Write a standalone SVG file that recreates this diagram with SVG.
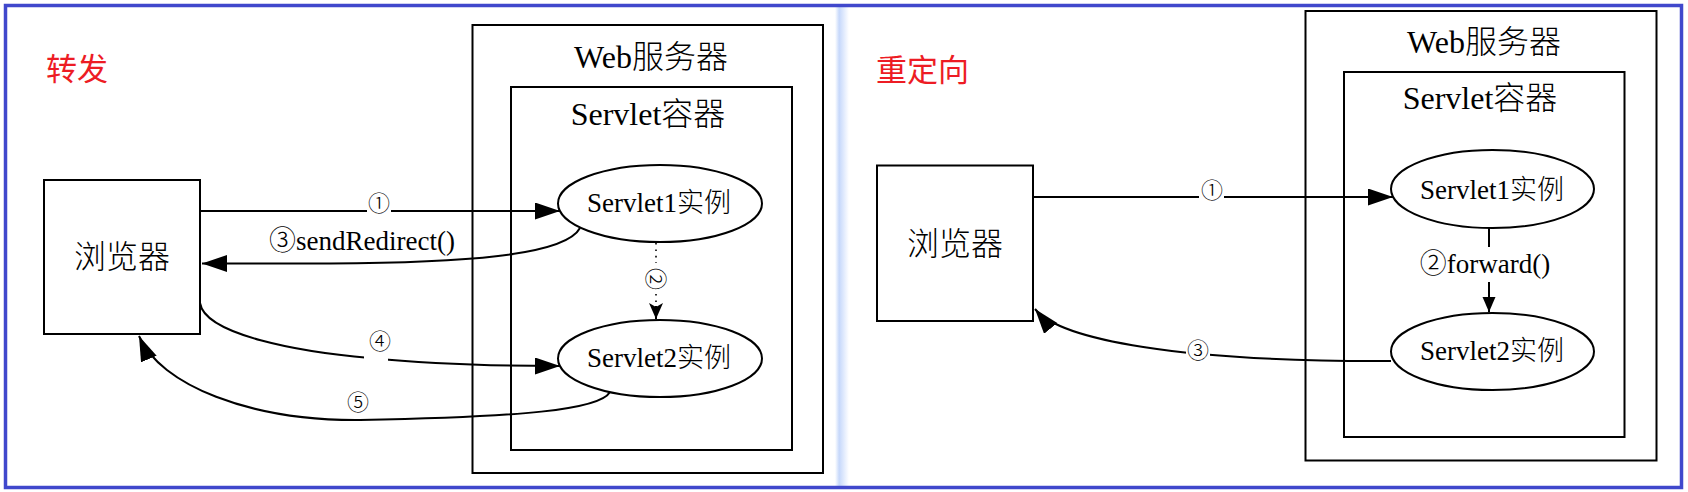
<svg xmlns="http://www.w3.org/2000/svg" width="1688" height="492" viewBox="0 0 1688 492">
  <style>
    .box{fill:none;stroke:#000;stroke-width:2}
    .ell{fill:#fff;stroke:#000;stroke-width:2}
    .ln{fill:none;stroke:#000;stroke-width:2}
    .dot{fill:none;stroke:#000;stroke-width:1.6;stroke-dasharray:1.6 4.8}
    .t{font-family:"Liberation Serif","Noto Sans CJK SC",serif;fill:#000}
    .big{font-size:32px}
    .mid{font-size:27px}
    .num{font-family:"Noto Sans CJK SC","Liberation Serif",sans-serif;font-size:22px;font-weight:300;fill:#000;text-anchor:middle}
    .cjk{font-family:"Noto Sans CJK SC",sans-serif;font-weight:300}
    .red{font-family:"Noto Sans CJK SC",sans-serif;font-size:31px;fill:#ED1C24}
    .c{text-anchor:middle}
  </style>
  <defs>
    <marker id="ah" markerUnits="userSpaceOnUse" markerWidth="26" markerHeight="18" refX="25" refY="8.5" orient="auto" viewBox="0 0 26 18">
      <path d="M0,0 L25,8.5 L0,17 Z" fill="#000"/>
    </marker>
    <marker id="ahn" markerUnits="userSpaceOnUse" markerWidth="17" markerHeight="15" refX="16" refY="7" orient="auto" viewBox="0 0 17 15">
      <path d="M0,0 L16,7 L0,14 L4,7 Z" fill="#000"/>
    </marker>
    <marker id="ahs" markerUnits="userSpaceOnUse" markerWidth="16" markerHeight="14" refX="15" refY="6.5" orient="auto" viewBox="0 0 16 14">
      <path d="M0,0 L15,6.5 L0,13 Z" fill="#000"/>
    </marker>
    <linearGradient id="div" x1="0" x2="1" y1="0" y2="0">
      <stop offset="0" stop-color="#ffffff"/>
      <stop offset="0.3" stop-color="#c6d8fb"/>
      <stop offset="1" stop-color="#ffffff"/>
    </linearGradient>
  </defs>

  <rect x="0" y="0" width="1688" height="492" fill="#fff"/>
  <rect x="835" y="6" width="14" height="480" fill="url(#div)"/>
  <rect x="5.5" y="5.5" width="1676" height="482" fill="none" stroke="#4048CC" stroke-width="3.5"/>

  <!-- Left: forward -->
  <g id="title-left"><text class="red" x="46" y="80">转发</text></g>

  <g id="web-left">
    <rect class="box" x="472.5" y="25" width="350.5" height="448"/>
    <text class="t big c" x="651" y="68">Web<tspan class="cjk">服务器</tspan></text>
  </g>
  <g id="container-left">
    <rect class="box" x="511" y="87" width="281" height="363"/>
    <text class="t big c" x="648" y="125">Servlet<tspan class="cjk">容器</tspan></text>
  </g>
  <g id="browser-left">
    <rect class="box" x="44" y="180" width="156" height="154"/>
    <text class="t big c cjk" x="122" y="268">浏览器</text>
  </g>

  <g id="connectors-left">
    <path class="ln" d="M200,211 H367 M391,211 H560" marker-end="url(#ah)"/>
    <path class="ln" d="M580,228 C565,256 460,263 330,263.5 L202,263.5" marker-end="url(#ah)"/>
    <path class="dot" d="M656,243 V263 M656,294 V319" />
    <path class="ln" d="M656,306 V319" stroke="none" marker-end="url(#ahn)"/>
    <path class="ln" d="M200,303 C205,335 300,352 370,358 C430,364 500,366 560,366" marker-end="url(#ah)"/>
    <path class="ln" d="M610,392 C600,410 520,417 360,420 C250,421 160,385 139,336" marker-end="url(#ah)"/>
  </g>

  <g id="servlet1-left">
    <ellipse class="ell" cx="660" cy="203.5" rx="102" ry="38.5"/>
    <text class="t mid c" x="659" y="212">Servlet1<tspan class="cjk">实例</tspan></text>
  </g>
  <g id="servlet2-left">
    <ellipse class="ell" cx="660" cy="358.5" rx="102" ry="38.5"/>
    <text class="t mid c" x="659" y="367">Servlet2<tspan class="cjk">实例</tspan></text>
  </g>

  <g id="labels-left">
    <text class="num" x="379" y="211">①</text>
    <text class="t mid" x="269" y="250"><tspan class="cjk">③</tspan>sendRedirect()</text>
    <text class="num" transform="translate(656,279) rotate(90)" x="0" y="8">②</text>
    <rect x="364" y="329" width="24" height="32" fill="#fff"/>
    <text class="num" x="380" y="349">④</text>
    <text class="num" x="358" y="410">⑤</text>
  </g>

  <!-- Right: redirect -->
  <g id="title-right"><text class="red" x="876" y="81">重定向</text></g>

  <g id="web-right">
    <rect class="box" x="1305.5" y="11" width="351" height="449.5"/>
    <text class="t big c" x="1484" y="53">Web<tspan class="cjk">服务器</tspan></text>
  </g>
  <g id="container-right">
    <rect class="box" x="1344" y="72" width="280.5" height="365"/>
    <text class="t big c" x="1480" y="109">Servlet<tspan class="cjk">容器</tspan></text>
  </g>
  <g id="browser-right">
    <rect class="box" x="877" y="165.5" width="156" height="155.5"/>
    <text class="t big c cjk" x="955" y="255">浏览器</text>
  </g>

  <g id="connectors-right">
    <path class="ln" d="M1033,197 H1199 M1224,197 H1393" marker-end="url(#ah)"/>
    <path class="ln" d="M1489,228 V247 M1489,282 V312" marker-end="url(#ahs)"/>
    <path class="ln" d="M1391,361 C1180,362 1060,340 1035,309" marker-end="url(#ah)"/>
  </g>

  <g id="servlet1-right">
    <ellipse class="ell" cx="1492.5" cy="189" rx="101.5" ry="39"/>
    <text class="t mid c" x="1492" y="199">Servlet1<tspan class="cjk">实例</tspan></text>
  </g>
  <g id="servlet2-right">
    <ellipse class="ell" cx="1492.5" cy="351.5" rx="101.5" ry="38.5"/>
    <text class="t mid c" x="1492" y="360">Servlet2<tspan class="cjk">实例</tspan></text>
  </g>

  <g id="labels-right">
    <text class="num" x="1212" y="198">①</text>
    <text class="t mid c" x="1485" y="273"><tspan class="cjk">②</tspan>forward()</text>
    <rect x="1186" y="338" width="24" height="19" fill="#fff"/>
    <text class="num" x="1198" y="358">③</text>
  </g>
</svg>
